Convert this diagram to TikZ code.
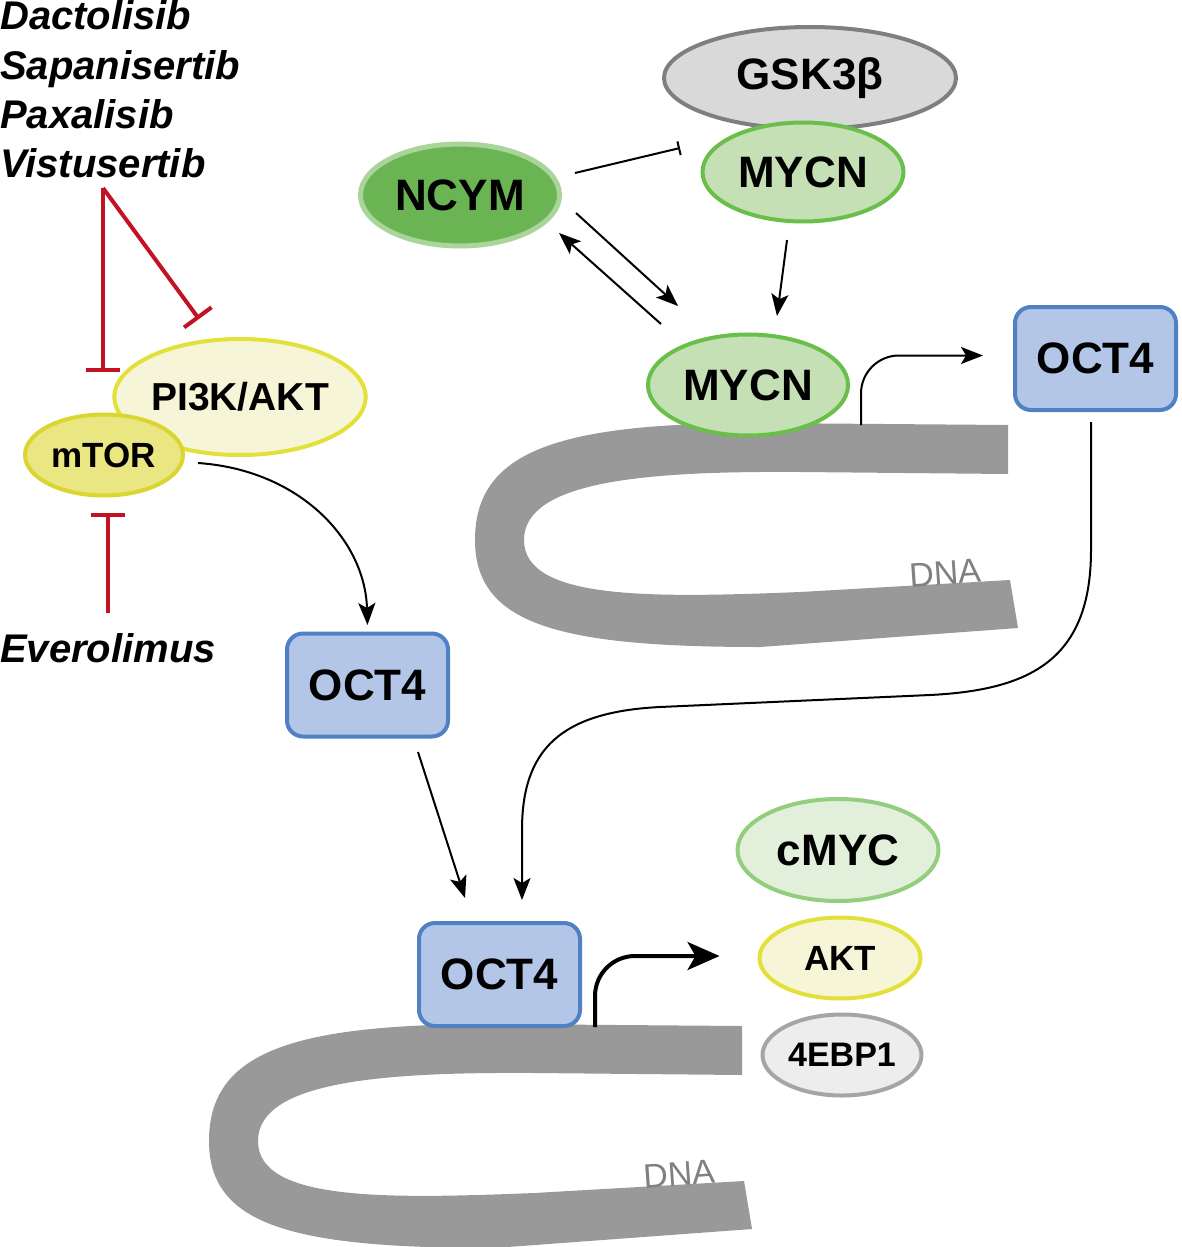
\documentclass[tikz,border=0pt]{standalone}
\usepackage{fontspec}
\setmainfont{Liberation Sans}
\usetikzlibrary{shapes.geometric,arrows.meta,calc}

\definecolor{inhred}{RGB}{194,18,36}
\definecolor{dnagray}{RGB}{153,153,153}
\definecolor{dnatext}{RGB}{128,128,128}
\definecolor{octfill}{RGB}{180,198,231}
\definecolor{octline}{RGB}{79,129,196}
\definecolor{ylwfill}{RGB}{247,245,216}
\definecolor{ylwline}{RGB}{228,224,58}
\definecolor{mtorfill}{RGB}{234,230,130}
\definecolor{mtorline}{RGB}{218,213,48}
\definecolor{ncymfill}{RGB}{107,180,83}
\definecolor{ncymline}{RGB}{169,213,154}
\definecolor{mycnfill}{RGB}{197,224,180}
\definecolor{mycnline}{RGB}{106,191,75}
\definecolor{cmycfill}{RGB}{226,239,218}
\definecolor{cmycline}{RGB}{147,205,126}
\definecolor{gskfill}{RGB}{217,217,217}
\definecolor{gskline}{RGB}{127,127,127}
\definecolor{ebpfill}{RGB}{237,237,237}
\definecolor{ebpline}{RGB}{165,165,165}

\begin{document}
\begin{tikzpicture}[x=1pt,y=-1pt,
  prot/.style={ellipse,draw,line width=4pt,inner sep=0pt,font=\bfseries\fontsize{44}{44}\selectfont},
  octbox/.style={rectangle,rounded corners=16pt,draw=octline,fill=octfill,line width=4pt,
    minimum width=161pt,minimum height=103pt,font=\bfseries\fontsize{44}{44}\selectfont},
  drug/.style={anchor=base west,inner sep=0pt,font=\bfseries\itshape\fontsize{40}{40}\selectfont},
  arr/.style={line width=2pt,-{Stealth[length=22pt,width=17pt,inset=5pt]}},
  inh/.style={line width=2pt,-{Bar[width=14pt]}},
  redinh/.style={draw=inhred,line width=4pt,-{Bar[width=34pt]}},
  dna/.pic={
    \fill[dnagray] (1008,425) -- (760,423) .. controls (560,423) and (475,450) .. (475,540)
      .. controls (475,625) and (560,647) .. (760,647) -- (1018,628) -- (1010,580) -- (800,592)
      .. controls (650,598) and (524,600) .. (524,540) .. controls (524,480) and (650,471) .. (800,472)
      -- (1008,474) -- cycle;
    \node[text=dnatext,font=\fontsize{34}{34}\selectfont,rotate=4,inner sep=0pt] (-label) at (945,573) {DNA};
  }]

  \useasboundingbox (0,0) rectangle (1181,1247);

  % drugs
  \node[drug] (dacto) at (0,30) {Dactolisib};
  \node[drug] (sapa) at (0,80) {Sapanisertib};
  \node[drug] (paxa) at (0,128) {Paxalisib};
  \node[drug] (vistu) at (0,177) {Vistusertib};
  \node[drug] (evero) at (0,662) {Everolimus};

  % DNA
  \pic (dnatop) at (0,0) {dna};
  \pic (dnabot) at (-266,601) {dna};

  % proteins
  \node[prot,fill=gskfill,draw=gskline,minimum width=292pt,minimum height=102pt] (gsk) at (810,78) {GSK3β};
  \node[prot,fill=mycnfill,draw=mycnline,minimum width=201pt,minimum height=99pt] (mycn1) at (803,172) {MYCN};
  \node[prot,fill=ncymfill,draw=ncymline,line width=5pt,minimum width=199pt,minimum height=102pt] (ncym) at (460,195) {NCYM};
  \node[prot,fill=mycnfill,draw=mycnline,minimum width=200pt,minimum height=101pt] (mycn2) at (748,385) {MYCN};
  \node[octbox] (oct4r) at (1095.5,358.5) {OCT4};
  \node[prot,fill=ylwfill,draw=ylwline,minimum width=231pt,minimum height=116pt,font=\bfseries\fontsize{39}{39}\selectfont] (pi3k) at (240,397) {PI3K/AKT};
  \node[prot,fill=mtorfill,draw=mtorline,minimum width=158pt,minimum height=81pt,font=\bfseries\fontsize{35}{35}\selectfont] (mtor) at (104,455) {mTOR};
  \node[octbox] (oct4m) at (367.5,685) {OCT4};
  \node[octbox] (oct4b) at (499.5,974.5) {OCT4};
  \node[prot,fill=cmycfill,draw=cmycline,minimum width=201pt,minimum height=102pt] (cmyc) at (838,850) {cMYC};
  \node[prot,fill=ylwfill,draw=ylwline,minimum width=161pt,minimum height=81pt,font=\bfseries\fontsize{35}{35}\selectfont] (akt) at (840,958) {AKT};
  \node[prot,fill=ebpfill,draw=ebpline,minimum width=159pt,minimum height=81pt,font=\bfseries\fontsize{34}{34}\selectfont] (ebp) at (842,1055) {4EBP1};

  \coordinate (split) at ($(vistu.base west)+(103,11)$);
  \coordinate (tss1) at (861,425);
  \coordinate (tss2) at (595,1027);

  % inhibitors
  \draw[redinh] (split) -- ($(mtor)+(-1,-83)$);
  \draw[redinh] (split) -- ($(pi3k)+(-41,-78)$);
  \draw[redinh] ($(evero.base west)+(108,-49)$) -- ($(mtor)+(4,58)$);
  \draw[inh] ($(ncym)+(115,-22)$) -- ($(mycn1)+(-123,-24)$);

  % arrows
  \draw[arr] ($(ncym)+(116,18)$) -- ($(mycn2)+(-70,-79)$);
  \draw[arr] ($(mycn2)+(-87,-61)$) -- ($(ncym)+(99,38)$);
  \draw[arr] ($(mycn1)+(-16,68)$) -- ($(mycn2)+(29,-69)$);
  \draw[arr] ($(mtor)+(94,8)$) .. controls (300,470) and (365,540) .. ($(oct4m)+(0,-60)$);
  \draw[arr] ($(oct4m)+(50.5,67)$) -- ($(oct4b)+(-34.5,-76.5)$);
  \draw[arr] ($(oct4r)+(-4.5,63.5)$) -- (1091,550) .. controls (1091,660) and (1030,690) .. (930,695)
    -- (660,707) .. controls (560,712) and (522,750) .. (522,830) -- ($(oct4b)+(22.5,-74.5)$);
  \draw[arr,rounded corners=38pt] (tss1) |- ($(oct4r.west)+(-30,-3)$);
  \draw[line width=4pt,rounded corners=40pt,-{Stealth[length=32pt,width=28pt,inset=8pt]}] (tss2) |- ($(akt.west)+(-38,-2)$);
\end{tikzpicture}
\end{document}
